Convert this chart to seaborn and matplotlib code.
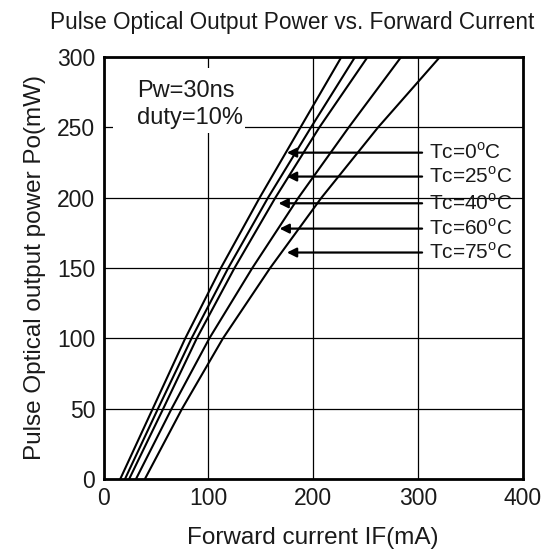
import matplotlib
matplotlib.use("Agg")
import pandas as pd
import seaborn as sns
from matplotlib import pyplot as plt
from matplotlib.patches import Rectangle

# %%
# values
power_levels = [0, 50, 100, 150, 200, 250, 300]  # Po (mW)
if_tc0 = [16, 47, 78, 112, 149, 188, 227]  # IF (mA)
if_tc25 = [20.5, 52, 84, 119, 157, 198, 240]
if_tc40 = [24.5, 57, 89, 125, 164, 206, 252]
if_tc60 = [31, 65, 101, 142, 186, 234, 284]
if_tc75 = [39.5, 75, 114, 159, 208, 262, 321]

tc_labels = ["Tc=0", "Tc=25", "Tc=40", "Tc=60", "Tc=75"]
arrow_power = [232, 215, 196, 178, 161]
arrow_tip = [175, 175, 167, 168, 175]
arrow_tail = 304

x_ticks = [0, 100, 200, 300, 400]
y_ticks = [0, 50, 100, 150, 200, 250, 300]

# %%
curves = [if_tc0, if_tc25, if_tc40, if_tc60, if_tc75]
rows = []
for lab, cur in zip(tc_labels, curves):
    for p, c in zip(power_levels, cur):
        rows.append({"Tc": lab, "IF": c, "Po": p})
df = pd.DataFrame(rows)

sns.set_style("white")
plt.rcParams["font.family"] = ["Liberation Sans", "DejaVu Sans"]
plt.rcParams["mathtext.fontset"] = "custom"
plt.rcParams["mathtext.rm"] = "Liberation Sans"

fig = plt.figure(figsize=(5.55, 5.54), dpi=100)
ax = fig.add_axes([0.1865, 0.1354, 0.7553, 0.7617])

sns.lineplot(
    data=df,
    x="IF",
    y="Po",
    hue="Tc",
    palette=["black"] * 5,
    sort=False,
    estimator=None,
    legend=False,
    linewidth=1.5,
    ax=ax,
)

ax.set_xlim(0, 400)
ax.set_ylim(0, 300)
ax.set_xticks(x_ticks)
ax.set_yticks(y_ticks)
ax.tick_params(axis="both", length=0, labelsize=16.5, colors="#1a1a1a")
ax.tick_params(axis="x", pad=6)
ax.tick_params(axis="y", pad=6)
ax.grid(True, color="black", linewidth=0.9)
ax.set_axisbelow(True)
for sp in ax.spines.values():
    sp.set_color("black")
    sp.set_linewidth(2)

ax.set_xlabel("Forward current IF(mA)", fontsize=17.5, color="#1a1a1a", labelpad=12)
ax.set_ylabel("Pulse Optical output power Po(mW)", fontsize=17.5, color="#1a1a1a", labelpad=8)

# condition box (white background hides the grid behind it)
ax.add_patch(Rectangle((0.023, 0.82), 0.315, 0.154, transform=ax.transAxes,
                       facecolor="white", edgecolor="none", zorder=1.5))
ax.text(
    32, 266, "Pw=30ns\nduty=10%", fontsize=17, color="#1a1a1a",
    va="center", ha="left", linespacing=1.3, zorder=3,
)

# temperature arrows
for lab, p, tip in zip(tc_labels, arrow_power, arrow_tip):
    ax.annotate(
        "", xy=(tip, p), xytext=(arrow_tail, p),
        arrowprops=dict(arrowstyle="-|>", color="black", lw=1.6,
                        mutation_scale=14, shrinkA=0, shrinkB=0),
    )
    ax.text(arrow_tail + 7, p, lab + "$^{\\mathrm{o}}$C", fontsize=15,
            color="#1a1a1a", va="center", ha="left")

fig.text(50 / 555, 1 - 22 / 554, "Pulse Optical Output Power vs. Forward Current",
         fontsize=16.3, color="#1a1a1a", va="center", ha="left")

plt.savefig("out.png", dpi=100)
